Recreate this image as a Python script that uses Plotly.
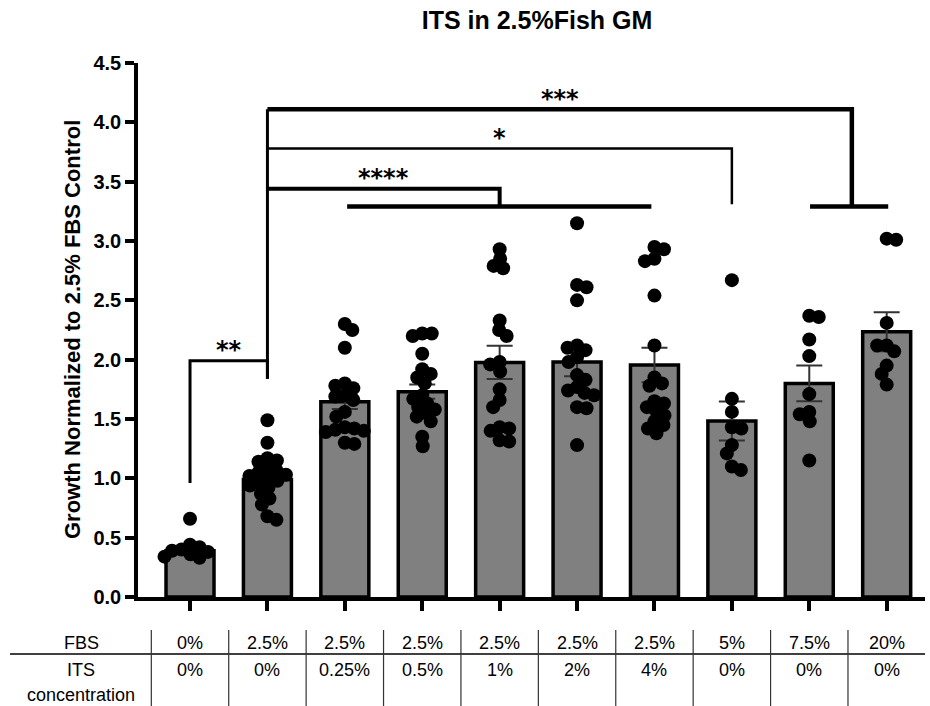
import plotly.graph_objects as go

# ---------------- data ----------------
fbs = ["0%", "2.5%", "2.5%", "2.5%", "2.5%", "2.5%", "2.5%", "5%", "7.5%", "20%"]
its = ["0%", "0%", "0.25%", "0.5%", "1%", "2%", "4%", "0%", "0%", "0%"]

means = [0.39, 0.99, 1.645, 1.73, 1.977, 1.98, 1.955, 1.483, 1.80, 2.235]
sems = [0.03, 0.04, 0.06, 0.06, 0.14, 0.12, 0.145, 0.165, 0.15, 0.165]

g0 = [0.66, 0.44, 0.42, 0.40, 0.39, 0.38, 0.36, 0.34, 0.33]
g1 = [1.49, 1.30, 1.17, 1.15, 1.14, 1.08, 1.06, 1.05, 1.03, 1.02, 1.00, 0.98, 0.96,
      0.94, 0.92, 0.87, 0.83, 0.78, 0.68, 0.65]
g2 = [2.30, 2.25, 2.10, 1.80, 1.78, 1.76, 1.70, 1.69, 1.66, 1.56, 1.52, 1.43, 1.42,
      1.41, 1.40, 1.39, 1.30, 1.29]
g3 = [2.22, 2.22, 2.20, 2.05, 1.92, 1.88, 1.85, 1.80, 1.70, 1.67, 1.63, 1.60, 1.58,
      1.55, 1.52, 1.48, 1.35, 1.27]
g4 = [2.93, 2.85, 2.79, 2.77, 2.33, 2.25, 2.20, 1.98, 1.96, 1.90, 1.75, 1.66, 1.60,
      1.43, 1.42, 1.40, 1.32, 1.31]
g5 = [3.15, 2.63, 2.61, 2.50, 2.12, 2.10, 2.08, 2.02, 1.98, 1.87, 1.83, 1.77, 1.74,
      1.72, 1.70, 1.60, 1.59, 1.28]
g6 = [2.95, 2.93, 2.85, 2.83, 2.54, 2.12, 1.85, 1.80, 1.78, 1.65, 1.63, 1.60, 1.57,
      1.53, 1.48, 1.45, 1.42, 1.38]
g7 = [2.67, 1.67, 1.56, 1.43, 1.42, 1.28, 1.21, 1.10, 1.07]
g8 = [2.37, 2.36, 2.17, 2.03, 1.71, 1.56, 1.54, 1.48, 1.15]
g9 = [3.02, 3.01, 2.31, 2.12, 2.12, 2.07, 1.95, 1.88, 1.79]
groups = [g0, g1, g2, g3, g4, g5, g6, g7, g8, g9]

# significance comparisons: (x_left, left_bottom, x_right, right_bottom, top, label, label_x)
comparisons = [
    (0, 0.96, 1, 1.84, 1.99, "**", 0.5),
    (1, None, 4, 3.29, 3.44, "****", 2.5),
    (1, None, 7, 3.31, 3.78, "*", 4.0),
    (1, None, 8.55, 3.29, 4.11, "***", 4.78),
]
# group lines under bracket ends: (x_from, x_to, y)
group_lines = [(2.03, 5.96, 3.29), (8.01, 9.02, 3.29)]

# ---------------- layout geometry ----------------
W, H = 930, 706
L, R, T, B = 138, 5, 63, 109
X_RANGE = [-0.672, 9.495]
Y_RANGE = [0, 4.5]
plot_w = W - L - R
plot_h = H - T - B
xpx = plot_w / (X_RANGE[1] - X_RANGE[0])
ypx = plot_h / (Y_RANGE[1] - Y_RANGE[0])


def px_to_paper_x(px):
    return (px - L) / plot_w


def px_to_paper_y(py):
    return (H - B - py) / plot_h


def swarm(vals, diam=9.5):
    placed = []
    xs = [0.0] * len(vals)
    order = sorted(range(len(vals)), key=lambda i: -vals[i])
    flip = 1
    for i in order:
        y = vals[i] * ypx
        best = None
        k = 0
        while best is None:
            for s in ([0] if k == 0 else [flip, -flip]):
                x = s * k * 0.5
                if all((x - a) ** 2 + (y - b) ** 2 >= diam ** 2 for a, b in placed):
                    best = x
                    break
            k += 1
        if best != 0:
            flip = -flip
        placed.append((best, y))
        xs[i] = best / xpx
    return xs


fig = go.Figure()
fig.add_bar(
    x=list(range(len(means))), y=means, width=0.62,
    marker=dict(color="#808080", line=dict(color="black", width=3.5)),
    error_y=dict(type="data", array=sems, visible=True, color="#333333",
                 thickness=2, width=13),
)

for i, g in enumerate(groups):
    offs = swarm(g)
    fig.add_scatter(
        x=[i + o for o in offs], y=g, mode="markers",
        marker=dict(color="black", size=14, line=dict(width=0)),
        hoverinfo="skip",
    )

shapes = []
annotations = []
SPINE_TOP = max(c[4] for c in comparisons)
for (xl, lb, xr, rb, top, lab, lx) in comparisons:
    lw = {"**": 3, "****": 4, "*": 2.5, "***": 4.5}[lab]
    if lb is not None:
        path = f"M {xl},{lb} L {xl},{top} L {xr},{top} L {xr},{rb}"
    else:
        path = f"M {xl},{top} L {xr},{top} L {xr},{rb}"
    shapes.append(dict(type="path", path=path, xref="x", yref="y",
                       line=dict(color="black", width=lw)))
    annotations.append(dict(x=lx, y=top + 0.09, xref="x", yref="y", text=lab,
                            showarrow=False, xanchor="center", yanchor="middle",
                            font=dict(family="DejaVu Sans", size=24, color="black",
                                      weight="bold")))
# spine at group 1
shapes.append(dict(type="line", x0=1, x1=1, y0=1.84, y1=SPINE_TOP, xref="x", yref="y",
                   line=dict(color="black", width=3)))
for (a, b, y) in group_lines:
    shapes.append(dict(type="line", x0=a, x1=b, y0=y, y1=y, xref="x", yref="y",
                       line=dict(color="black", width=4.5)))

# ---------------- table below the axis ----------------
tfont = dict(family="Liberation Sans", size=18, color="black")
row_fbs_y = px_to_paper_y(643)
row_its_y = px_to_paper_y(670)
row_conc_y = px_to_paper_y(695)
for i in range(len(fbs)):
    annotations.append(dict(x=i, y=row_fbs_y, xref="x", yref="paper", text=fbs[i],
                            showarrow=False, xanchor="center", yanchor="middle", font=tfont))
    annotations.append(dict(x=i, y=row_its_y, xref="x", yref="paper", text=its[i],
                            showarrow=False, xanchor="center", yanchor="middle", font=tfont))
lab_x = px_to_paper_x(81)
annotations.append(dict(x=lab_x, y=row_fbs_y, xref="paper", yref="paper", text="FBS",
                        showarrow=False, xanchor="center", yanchor="middle", font=tfont))
annotations.append(dict(x=lab_x, y=row_its_y, xref="paper", yref="paper", text="ITS",
                        showarrow=False, xanchor="center", yanchor="middle", font=tfont))
annotations.append(dict(x=lab_x, y=row_conc_y, xref="paper", yref="paper",
                        text="concentration", showarrow=False, xanchor="center",
                        yanchor="middle", font=tfont))
shapes.append(dict(type="line", xref="paper", yref="paper",
                   x0=px_to_paper_x(10), x1=px_to_paper_x(925),
                   y0=px_to_paper_y(654), y1=px_to_paper_y(654),
                   line=dict(color="black", width=1.5)))
for i in range(len(fbs)):
    sx = px_to_paper_x(L + (i - 0.5 - X_RANGE[0]) * xpx)
    shapes.append(dict(type="line", xref="paper", yref="paper",
                       x0=sx, x1=sx, y0=px_to_paper_y(630), y1=px_to_paper_y(706),
                       line=dict(color="#333333", width=1.2)))

# y-axis title
annotations.append(dict(x=px_to_paper_x(72), y=0.5, xref="paper", yref="paper",
                        text="<b>Growth Normalized to 2.5% FBS Control</b>",
                        textangle=-90, showarrow=False, xanchor="center", yanchor="middle",
                        font=dict(family="Liberation Sans", size=22, color="black")))

fig.update_layout(
    width=W, height=H,
    margin=dict(l=L, r=R, t=T, b=B, pad=0),
    paper_bgcolor="white", plot_bgcolor="white",
    showlegend=False,
    title=dict(text="<b>ITS in 2.5%Fish GM</b>", x=537 / W, xref="container",
               xanchor="center", y=1 - 20 / H, yref="container", yanchor="middle",
               font=dict(family="Liberation Sans", size=25, color="black")),
    shapes=shapes, annotations=annotations,
    xaxis=dict(range=X_RANGE, showline=True, linecolor="black", linewidth=4,
               ticks="outside", tickvals=list(range(len(fbs))), ticklen=10, tickwidth=4,
               tickcolor="black", showticklabels=False, showgrid=False, zeroline=False),
    yaxis=dict(range=Y_RANGE, showline=True, linecolor="black", linewidth=3.5,
               ticks="outside", tickvals=[i * 0.5 for i in range(10)], tickformat=".1f",
               ticklen=9, tickwidth=3.5, tickcolor="black", showgrid=False, zeroline=False,
               tickfont=dict(family="Liberation Sans", size=20, color="black", weight="bold")),
)

fig.write_html("out.html")
